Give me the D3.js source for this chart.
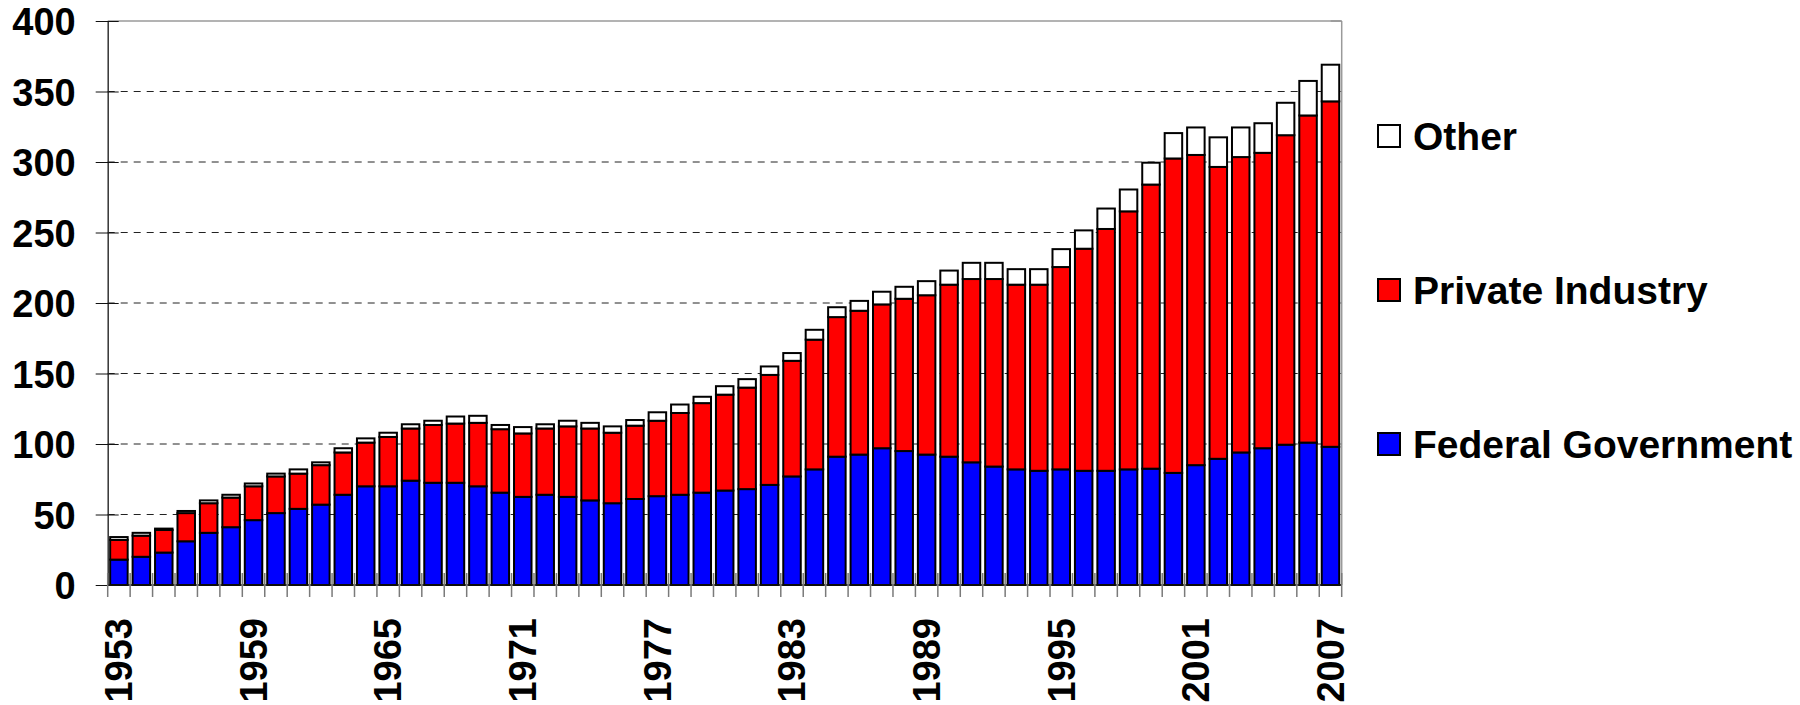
<!doctype html>
<html lang="en">
<head>
<meta charset="utf-8">
<title>Funding by source, 1953-2007</title>
<script src="https://d3js.org/d3.v7.min.js"></script>
<style>
  body { margin: 0; background: #fff; }
  svg text { font-family: "Liberation Sans", Arial, sans-serif; font-weight: bold; fill: #000; }
  .grid line { stroke: #222; stroke-dasharray: 7,6; }
  .bars rect { stroke: #000; stroke-width: 2px; }
</style>
</head>
<body>
<svg width="1800" height="705"></svg>
<script>
// years on the x axis
const years = d3.range(1953, 2008);
const yearLabels = [1953, 1959, 1965, 1971, 1977, 1983, 1989, 1995, 2001, 2007];
const yTicks = [0, 50, 100, 150, 200, 250, 300, 350, 400];

const federal = [18, 20, 23, 31, 37, 41, 46, 51, 54, 57,
  64, 70, 70, 74, 72.5, 72.5, 70, 65.5, 62.5, 64,
  62.5, 60, 58, 61, 63, 64, 65.5, 67, 68, 71,
  77, 82, 91, 92.5, 97, 95, 92.5, 91, 87, 84,
  82, 81, 82, 81, 81, 82, 82.5, 79.5, 85, 89.5,
  94, 97, 99.5, 101, 98];
const privateInd = [14, 15, 16, 20, 21, 21, 24, 26, 25, 28,
  30, 31, 35, 37, 41, 42, 45, 45, 45, 47,
  50, 51, 50, 52, 53.5, 58, 63.5, 68, 72, 78,
  82, 92, 99, 102, 102, 108, 113, 122, 130, 133,
  131, 132, 143.5, 157.5, 171.5, 183, 201.5, 223, 220, 207,
  209.5, 209.5, 219.5, 232, 245];
const other = [2, 2, 1, 1.5, 2, 2, 2, 2, 3, 2,
  3, 3, 3, 3, 3, 5, 5, 3, 4.5, 3,
  4, 4, 4.5, 4, 6, 6, 4.5, 6, 6, 6,
  5.5, 7, 7, 7, 9, 8.5, 10, 10, 11.5, 11.5,
  11, 11, 12.7, 13, 14.5, 15.5, 15.5, 18, 19.5, 21,
  21, 21, 23, 24.5, 26];

const series = [
  { key: "federal", name: "Federal Government", color: "#0000ff" },
  { key: "private", name: "Private Industry", color: "#ff0000" },
  { key: "other", name: "Other", color: "#ffffff" }
];

const rows = years.map((yr, i) => ({ year: yr, federal: federal[i], private: privateInd[i], other: other[i] }));

const svg = d3.select("svg");
const plotL = 107.7, plotR = 1341.7, plotT = 21, plotB = 585;

const x = d3.scaleBand().domain(years).range([plotL, plotR]).paddingInner(0.22).paddingOuter(0.11);
const y = d3.scaleLinear().domain([0, 400]).range([plotB, plotT]);
const step = x.step();

// dashed gridlines
svg.append("g").attr("class", "grid")
  .selectAll("line").data(yTicks.filter(d => d > 0 && d < 400)).join("line")
  .attr("x1", plotL).attr("x2", plotR)
  .attr("y1", d => y(d)).attr("y2", d => y(d));

// top frame line and right side
svg.append("line").attr("x1", plotL).attr("x2", plotR).attr("y1", y(400)).attr("y2", y(400))
  .attr("stroke", "#9a9a9a").attr("stroke-width", 1.5);
svg.append("line").attr("x1", plotR).attr("x2", plotR).attr("y1", y(400)).attr("y2", y(0))
  .attr("stroke", "#9a9a9a").attr("stroke-width", 1.5);
svg.append("g").selectAll("line").data(yTicks).join("line")
  .attr("x1", plotR - 11).attr("x2", plotR)
  .attr("y1", d => y(d)).attr("y2", d => y(d))
  .attr("stroke", "#888");

// stacked bars
const stacked = d3.stack().keys(series.map(s => s.key))(rows);
svg.append("g").attr("class", "bars")
  .selectAll("g").data(stacked).join("g")
  .attr("fill", (d, i) => series[i].color)
  .selectAll("rect").data(d => d).join("rect")
  .attr("x", d => x(d.data.year))
  .attr("width", x.bandwidth())
  .attr("y", d => y(d[1]))
  .attr("height", d => y(d[0]) - y(d[1]));

// y axis
const yAxis = svg.append("g").attr("transform", `translate(${plotL},0)`)
  .call(d3.axisLeft(y).tickValues(yTicks).tickSizeInner(12).tickSizeOuter(0).tickPadding(20));
yAxis.select(".domain").attr("stroke", "#333").attr("stroke-width", 1.5);
yAxis.selectAll(".tick line").attr("x2", -12).attr("x1", 11).attr("stroke", "#111");
yAxis.selectAll(".tick text").style("font-size", "38px").attr("dy", "0.36em");

// x axis line and ticks on band boundaries
svg.append("line").attr("x1", plotL).attr("x2", plotR).attr("y1", y(0)).attr("y2", y(0))
  .attr("stroke", "#111").attr("stroke-width", 1.5);
svg.append("g").selectAll("line").data(d3.range(years.length + 1)).join("line")
  .attr("x1", i => plotL + i * step).attr("x2", i => plotL + i * step)
  .attr("y1", y(0) - 12).attr("y2", y(0) + 12)
  .attr("stroke", "#7a7a7a").attr("stroke-width", 1.5);

svg.append("g").selectAll("text").data(yearLabels).join("text")
  .attr("transform", d => `translate(${x(d) + x.bandwidth() / 2},618) rotate(-90)`)
  .attr("text-anchor", "end")
  .attr("dy", "0.35em")
  .style("font-size", "38px")
  .text(d => d);

// legend
const legendRows = [series[2], series[1], series[0]];
const lg = svg.append("g").selectAll("g").data(legendRows).join("g")
  .attr("transform", (d, i) => `translate(1378,${136 + i * 154})`);
lg.append("rect").attr("x", 0).attr("y", -11).attr("width", 22).attr("height", 22)
  .attr("fill", d => d.color).attr("stroke", "#000").attr("stroke-width", 2);
lg.append("text").attr("x", 35).attr("dy", "0.36em")
  .style("font-size", "39px").text(d => d.name);
</script>
</body>
</html>
